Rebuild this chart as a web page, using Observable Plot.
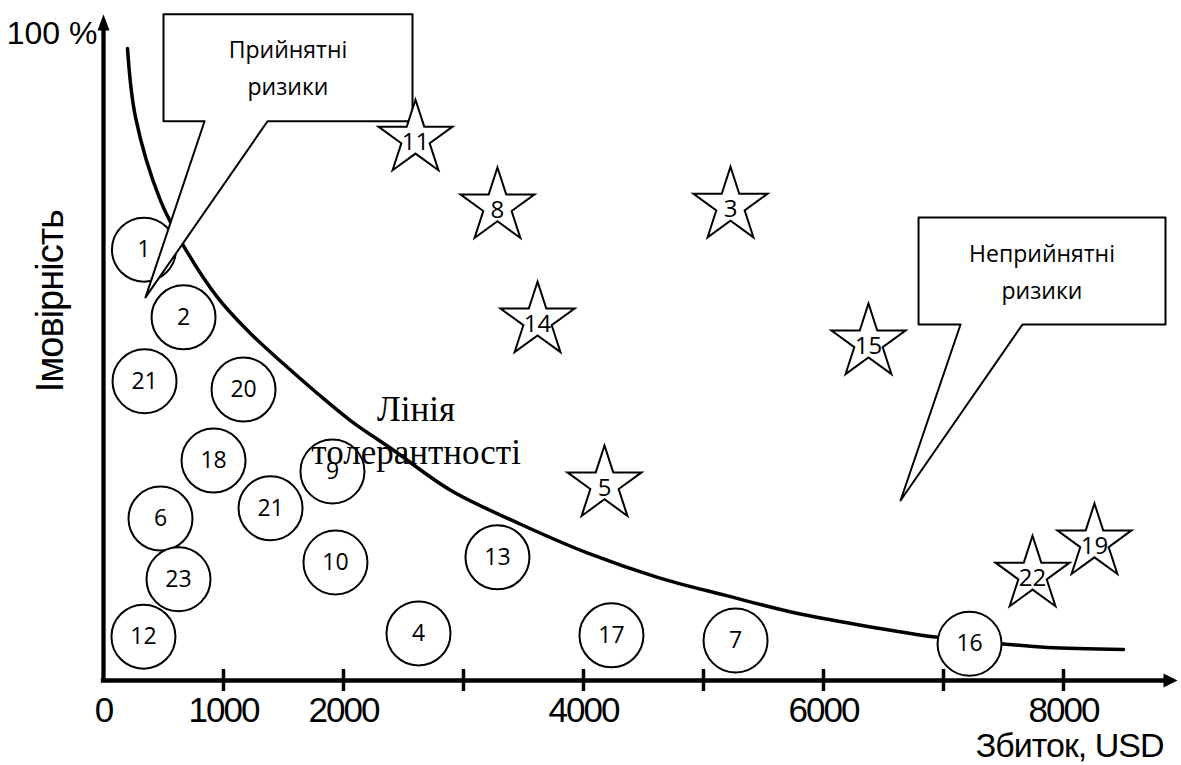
<!DOCTYPE html>
<html><head><meta charset="utf-8">
<script src="https://cdn.jsdelivr.net/npm/d3@7"></script>
<script src="https://cdn.jsdelivr.net/npm/@observablehq/plot@0.6"></script>
<style>
html,body{margin:0;padding:0;background:#fff;}
#chart svg{display:block;}
#chart g[aria-label="x-axis tick label"] text{letter-spacing:-2px;}
#chart .axis-title text{letter-spacing:-1px;}
</style></head><body><div id="chart"></div>
<script>
// ---- data ----
const xTickValues = [1000, 2000, 3000, 4000, 5000, 6000, 7000, 8000];
const xTickLabels = [0, 1000, 2000, 4000, 6000, 8000];

// tolerance line (USD, %)
const curveX = [200, 267, 475, 667, 950, 1225, 1500, 1783, 2058, 2417, 2892, 3467, 4042, 4617, 5183, 5758, 6333, 6950, 7483, 7867, 8500];
const curveY = [98.0, 87.3, 74.4, 67.4, 59.4, 53.8, 49.1, 44.5, 40.3, 35.7, 29.5, 24.3, 19.7, 16.0, 13.2, 10.5, 8.5, 6.7, 5.7, 5.1, 4.8];

// acceptable risks (circles)
const circleLabels = ["1", "2", "21", "20", "18", "9", "6", "21", "10", "13", "23", "12", "4", "17", "7", "16"];
const circleX = [337, 667, 342, 1167, 917, 1908, 475, 1392, 1933, 3283, 625, 333, 2625, 4233, 5267, 7217];
const circleY = [66.8, 56.3, 46.4, 45.1, 34.1, 32.4, 25.1, 26.7, 18.3, 19.1, 15.7, 6.8, 7.3, 7.0, 6.2, 5.7];

// unacceptable risks (stars)
const starLabels = ["11", "8", "3", "14", "15", "5", "22", "19"];
const starX = [2600, 3283, 5225, 3617, 6375, 4175, 7742, 8258];
const starY = [84.0, 73.5, 73.6, 55.8, 52.4, 30.4, 16.4, 21.4];

// annotations (data units)
const calloutTexts = ["Прийнятні\nризики", "Неприйнятні\nризики"];
const calloutBoxX = [[500, 2575], [6792, 8850]];
const calloutBoxY = [[86.7, 103.3], [55.2, 71.8]];
const calloutTailX = [[842, 1367], [7142, 7658]];
const calloutTipX = [350, 6642];
const calloutTipY = [59.4, 27.9];
const calloutTextY = [95.5, 63.9];

const toleranceText = "Лінія\nтолерантності";
const toleranceTextX = 2605;
const toleranceTextY = 39.0;

const xTitle = "Збиток, USD";
const yTitle = "Імовірність";
const yTopLabel = "100 %";
const xMax = 8950, yMax = 100, yArrowTip = 103.3;

// ---- build ----
const curve = curveX.map((x, i) => ({x, y: curveY[i]}));
const circles = circleLabels.map((label, i) => ({label, x: circleX[i], y: circleY[i]}));
const stars = starLabels.map((label, i) => ({label, x: starX[i], y: starY[i]}));
const calloutPts = [];
calloutTexts.forEach((t, k) => {
  const [x0, x1] = calloutBoxX[k], [y0, y1] = calloutBoxY[k], [t0, t1] = calloutTailX[k];
  [[x0, y1], [x1, y1], [x1, y0], [t1, y0], [calloutTipX[k], calloutTipY[k]], [t0, y0], [x0, y0]]
    .forEach(([x, y]) => calloutPts.push({id: k, x, y}));
});
const calloutLabels = calloutTexts.map((text, k) => ({text, x: (calloutBoxX[k][0] + calloutBoxX[k][1]) / 2, y: calloutTextY[k]}));

const arrowRight = {draw(ctx, size) { const s = Math.sqrt(size / Math.PI); ctx.moveTo(0, 0); ctx.lineTo(-2 * s, -s); ctx.lineTo(-2 * s, s); ctx.closePath(); }};
const arrowUp = {draw(ctx, size) { const s = Math.sqrt(size / Math.PI); ctx.moveTo(0, 0); ctx.lineTo(-s, 2.7 * s); ctx.lineTo(s, 2.7 * s); ctx.closePath(); }};

const sans = "'Liberation Sans', Arial, sans-serif";
const callFont = "'Open Sans', 'Noto Sans', sans-serif";

const plot = Plot.plot({
  width: 1181, height: 765,
  marginLeft: 103, marginRight: 4, marginTop: 35, marginBottom: 85,
  x: {domain: [0, xMax], axis: null},
  y: {domain: [0, yMax], axis: null},
  style: {background: "white", color: "black"},
  marks: [
    // axes
    Plot.ruleY([0], {x1: 0, x2: xMax - 100, stroke: "black", strokeWidth: 4.3, strokeLinecap: "square"}),
    Plot.ruleX([0], {y1: 0, y2: yArrowTip - 2.5, stroke: "black", strokeWidth: 4.3, strokeLinecap: "square"}),
    Plot.ruleX(xTickValues, {x: d => d, y1: 0, y2: 0, insetTop: -11, insetBottom: -11, stroke: "black", strokeWidth: 3.5}),
    Plot.dot([0], {x: xMax, y: 0, symbol: arrowRight, r: 7, fill: "black", stroke: "none"}),
    Plot.dot([0], {x: 0, y: yArrowTip, symbol: arrowUp, r: 6, fill: "black", stroke: "none"}),
    Plot.axisX({ticks: xTickLabels, tickSize: 0, tickPadding: 17, tickFormat: d => String(d), fontSize: 35, fontFamily: sans, label: null}),
    // tolerance line
    Plot.line(curve, {x: "x", y: "y", curve: "catmull-rom", stroke: "black", strokeWidth: 3.5}),
    // circles
    Plot.dot(circles, {x: "x", y: "y", r: 32, fill: "white", stroke: "black", strokeWidth: 2}),
    Plot.text(circles, {x: "x", y: "y", text: "label", fontSize: 23, fontFamily: callFont, fill: "black"}),
    // callouts
    Plot.line(calloutPts, {x: "x", y: "y", z: "id", curve: "linear-closed", fill: "white", stroke: "black", strokeWidth: 2}),
    Plot.text(calloutLabels, {x: "x", y: "y", text: "text", fontSize: 23, lineHeight: 1.6, fontFamily: callFont, fill: "black"}),
    // stars
    Plot.dot(stars, {x: "x", y: "y", symbol: "star", r: 23.3, fill: "white", stroke: "black", strokeWidth: 2}),
    Plot.text(stars, {x: "x", y: "y", text: "label", dy: 4, fontSize: 24, fontFamily: callFont, fill: "black"}),
    // tolerance label
    Plot.text([toleranceText], {x: toleranceTextX, y: toleranceTextY, text: d => d, fontSize: 35, lineHeight: 1.23, fontFamily: "'Liberation Serif', 'Times New Roman', serif", fill: "black"}),
    // axis titles
    Plot.text([yTopLabel], {x: -50, y: 100.3, text: d => d, textAnchor: "end", fontSize: 32, fontFamily: sans, fill: "black"}),
    Plot.text([yTitle], {x: -442, y: 58.8, text: d => d, rotate: -90, fontSize: 38, fontFamily: sans, fill: "black", className: "axis-title"}),
    Plot.text([xTitle], {x: 8833, y: -10.1, text: d => d, textAnchor: "end", fontSize: 34, fontFamily: sans, fill: "black", className: "axis-title"})
  ]
});
document.getElementById("chart").append(plot);
</script></body></html>
